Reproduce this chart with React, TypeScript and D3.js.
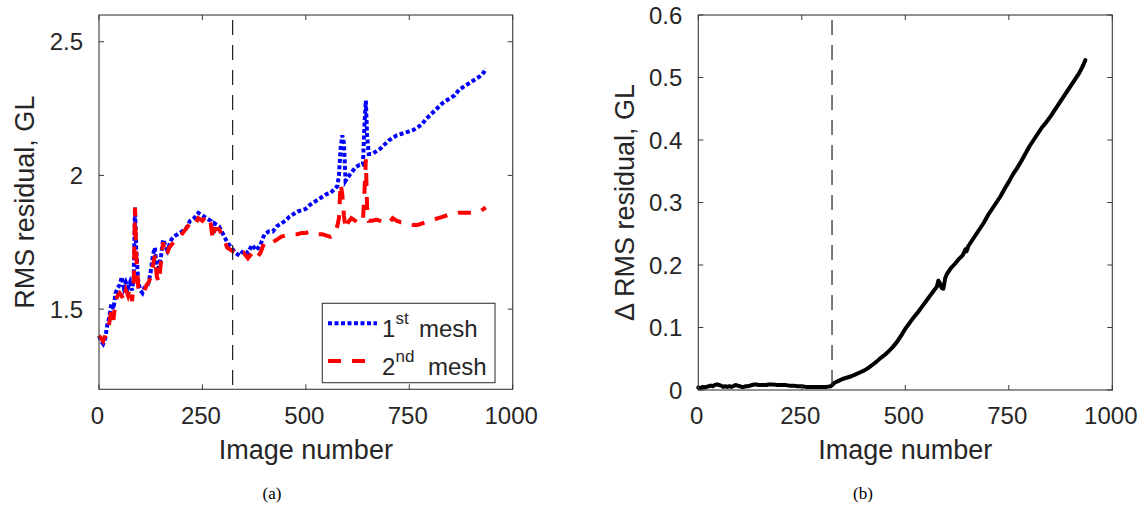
import React from "react";
import * as d3 from "d3";

// ---- data ----
const imageNumbers = [
  0, 5, 10, 15, 20, 25, 30, 35, 40, 45, 50, 55, 60, 65, 70, 75, 80, 84, 87, 90,
  95, 100, 105, 110, 115, 120, 125, 130, 135, 140, 145, 150, 155, 160, 165, 170, 175, 180, 190, 200,
  210, 220, 230, 240, 250, 260, 270, 275, 280, 290, 300, 310, 320, 330, 340, 350, 360, 370, 380, 390,
  400, 410, 420, 430, 440, 450, 460, 470, 480, 490, 500, 510, 520, 530, 540, 550, 560, 570, 576, 580,
  584, 588, 592, 596, 600, 610, 620, 630, 638, 642, 645, 648, 652, 660, 670, 680, 690, 700, 710, 720,
  730, 740, 750, 760, 770, 780, 790, 800, 810, 820, 830, 840, 850, 860, 870, 880, 890, 900, 910, 920,
  930, 935,
];

const mesh1Rms = [
  1.40, 1.38, 1.37, 1.39, 1.44, 1.47, 1.52, 1.50, 1.56, 1.58, 1.59, 1.62, 1.58, 1.60, 1.58, 1.60, 1.57, 1.62, 1.88, 1.72,
  1.60, 1.57, 1.56, 1.58, 1.58, 1.60, 1.64, 1.70, 1.73, 1.64, 1.66, 1.70, 1.76, 1.74, 1.72, 1.74, 1.76, 1.77, 1.78, 1.79,
  1.80, 1.83, 1.84, 1.86, 1.85, 1.84, 1.83, 1.78, 1.82, 1.81, 1.78, 1.75, 1.73, 1.71, 1.70, 1.72, 1.71, 1.74, 1.72, 1.74,
  1.78, 1.79, 1.79, 1.81, 1.82, 1.83, 1.845, 1.855, 1.865, 1.87, 1.875, 1.89, 1.90, 1.91, 1.92, 1.93, 1.935, 1.95, 1.96, 2.00,
  2.10, 2.15, 2.12, 1.98, 1.99, 2.01, 2.03, 2.04, 2.04, 2.20, 2.28, 2.15, 2.08, 2.08, 2.09, 2.10, 2.115, 2.13, 2.14, 2.15,
  2.155, 2.16, 2.165, 2.17, 2.18, 2.19, 2.21, 2.225, 2.24, 2.255, 2.27, 2.28, 2.29, 2.30, 2.32, 2.33, 2.34, 2.35, 2.36, 2.37,
  2.385, 2.40,
];

const mesh2Rms = [
  1.40, 1.39, 1.38, 1.40, 1.42, 1.45, 1.50, 1.46, 1.53, 1.55, 1.56, 1.55, 1.53, 1.57, 1.55, 1.58, 1.53, 1.60, 1.88, 1.70,
  1.58, 1.56, 1.56, 1.57, 1.59, 1.60, 1.62, 1.66, 1.70, 1.62, 1.60, 1.68, 1.75, 1.70, 1.71, 1.73, 1.74, 1.75, 1.76, 1.78,
  1.80, 1.82, 1.81, 1.84, 1.83, 1.85, 1.82, 1.76, 1.80, 1.80, 1.77, 1.73, 1.72, 1.71, 1.70, 1.71, 1.69, 1.71, 1.69, 1.71,
  1.75, 1.75, 1.75, 1.76, 1.77, 1.775, 1.78, 1.78, 1.78, 1.785, 1.785, 1.79, 1.785, 1.78, 1.78, 1.775, 1.77, 1.78, 1.81, 1.84,
  1.97, 1.93, 1.85, 1.80, 1.82, 1.84, 1.83, 1.82, 1.83, 1.95, 2.06, 1.88, 1.83, 1.83, 1.835, 1.83, 1.825, 1.82, 1.84, 1.83,
  1.825, 1.825, 1.82, 1.815, 1.815, 1.82, 1.825, 1.83, 1.835, 1.84, 1.845, 1.85, 1.855, 1.855, 1.86, 1.86, 1.86, 1.86, 1.865, 1.865,
  1.875, 1.88,
];

const deltaRms = [
  0.004, 0.003, 0.005, 0.004, 0.005, 0.006, 0.007, 0.006, 0.008, 0.009, 0.008, 0.007, 0.005, 0.006, 0.005, 0.006, 0.005, 0.006, 0.007, 0.008,
  0.007, 0.006, 0.005, 0.005, 0.006, 0.006, 0.007, 0.008, 0.009, 0.009, 0.008, 0.008, 0.008, 0.008, 0.008, 0.009, 0.009, 0.009, 0.008, 0.008,
  0.008, 0.007, 0.007, 0.006, 0.006, 0.005, 0.005, 0.005, 0.005, 0.005, 0.005, 0.005, 0.006, 0.012, 0.015, 0.018, 0.020, 0.022, 0.025, 0.028,
  0.031, 0.035, 0.040, 0.045, 0.051, 0.056, 0.062, 0.069, 0.077, 0.087, 0.098, 0.107, 0.116, 0.124, 0.133, 0.142, 0.151, 0.160, 0.165, 0.175,
  0.170, 0.163, 0.162, 0.178, 0.185, 0.195, 0.202, 0.210, 0.215, 0.220, 0.225, 0.222, 0.230, 0.238, 0.248, 0.258, 0.268, 0.280, 0.290, 0.300,
  0.310, 0.322, 0.333, 0.345, 0.355, 0.366, 0.378, 0.390, 0.400, 0.410, 0.420, 0.428, 0.437, 0.447, 0.457, 0.467, 0.477, 0.487, 0.497, 0.507,
  0.520, 0.528,
];

const markerImage = 323;
const xTicks = [0, 250, 500, 750, 1000];
const yTicksLeft = [1.5, 2, 2.5];
const yTicksRight = [0, 0.1, 0.2, 0.3, 0.4, 0.5, 0.6];
const legendLabels = [
  { base: "1", sup: "st", rest: "mesh" },
  { base: "2", sup: "nd", rest: "mesh" },
];

const FONT = "'Liberation Sans', Arial, Helvetica, sans-serif";
const INK = "#262626";
const AXIS = "#3a3a3a";

function Panel({
  left, right, top, bottom, yDomain, yTicks, yFmt, ylabel, ylabelX, children, caption, captionX,
}: any) {
  const x = d3.scaleLinear().domain([0, 1000]).range([left, right]);
  const y = d3.scaleLinear().domain(yDomain).range([bottom, top]);
  const tl = 5;
  return (
    <g>
      {children(x, y)}
      <line x1={x(markerImage)} x2={x(markerImage)} y1={top} y2={bottom}
        stroke="#222" strokeWidth={1.2} strokeDasharray="15 10" strokeDashoffset={20} />
      <rect x={left} y={top} width={right - left} height={bottom - top} fill="none" stroke={AXIS} strokeWidth={1.1} />
      {xTicks.map((t) => (
        <g key={"x" + t}>
          <line x1={x(t)} x2={x(t)} y1={bottom} y2={bottom - tl} stroke={AXIS} strokeWidth={1} />
          <line x1={x(t)} x2={x(t)} y1={top} y2={top + tl} stroke={AXIS} strokeWidth={1} />
          <text x={x(t) - 1.5} y={423.5} textAnchor="middle" fontSize={24} fill={INK} fontFamily={FONT}>{t}</text>
        </g>
      ))}
      {yTicks.map((t: number) => (
        <g key={"y" + t}>
          <line x1={left} x2={left + tl} y1={y(t)} y2={y(t)} stroke={AXIS} strokeWidth={1} />
          <line x1={right} x2={right - tl} y1={y(t)} y2={y(t)} stroke={AXIS} strokeWidth={1} />
          <text x={left - 16} y={y(t) + 8.6} textAnchor="end" fontSize={24} fill={INK} fontFamily={FONT}>{yFmt(t)}</text>
        </g>
      ))}
      <text x={(left + right) / 2} y={459} textAnchor="middle" fontSize={27} fill={INK} fontFamily={FONT}>Image number</text>
      <text transform={`translate(${ylabelX},${(top + bottom) / 2}) rotate(-90)`} textAnchor="middle" dy="0.35em"
        fontSize={27} fill={INK} fontFamily={FONT}>{ylabel}</text>
      <text x={captionX} y={499} textAnchor="middle" fontSize={17} fill="#000" fontFamily="'Liberation Serif', 'Times New Roman', serif">{caption}</text>
    </g>
  );
}

export default function App() {
  const idx = imageNumbers.map((_, i) => i);
  return (
    <svg width={1142} height={510} style={{ position: "absolute", left: 0, top: 0, background: "#fff" }}>
      <rect width={1142} height={510} fill="#fff" />
      <Panel left={99} right={512.7} top={15} bottom={389.3} yDomain={[1.2, 2.6]} yTicks={yTicksLeft}
        yFmt={(t: number) => String(t)} ylabel="RMS residual, GL" ylabelX={25} caption="(a)" captionX={272}>
        {(x: any, y: any) => {
          const l1 = d3.line<number>().x((i) => x(imageNumbers[i])).y((i) => y(mesh1Rms[i]));
          const l2 = d3.line<number>().x((i) => x(imageNumbers[i])).y((i) => y(mesh2Rms[i]));
          return (
            <g>
              <path d={l1(idx) || ""} fill="none" stroke="#0000ff" strokeWidth={4} strokeDasharray="4 2.5" />
              <path d={l2(idx) || ""} fill="none" stroke="#ff0000" strokeWidth={4} strokeDasharray="13 11" />
              <rect x={322.3} y={303.3} width={172.7} height={79.4} fill="#fff" stroke={AXIS} strokeWidth={1.1} />
              <line x1={328} x2={377} y1={323.3} y2={323.3} stroke="#0000ff" strokeWidth={4} strokeDasharray="4 2.5" />
              <line x1={328} x2={367} y1={361} y2={361} stroke="#ff0000" strokeWidth={4} strokeDasharray="13 11" />
              {legendLabels.map((lg, i) => (
                <g key={lg.sup} fontFamily={FONT} fill={INK}>
                  <text x={382} y={336.7 + i * 38} fontSize={24}>{lg.base}</text>
                  <text x={395.5} y={324 + i * 38} fontSize={17}>{lg.sup}</text>
                  <text x={419 + i * 9} y={336.7 + i * 38} fontSize={24}>{lg.rest}</text>
                </g>
              ))}
            </g>
          );
        }}
      </Panel>
      <Panel left={698.3} right={1112.3} top={15} bottom={390} yDomain={[0, 0.6]} yTicks={yTicksRight}
        yFmt={(t: number) => (t === 0 ? "0" : t.toFixed(1))} ylabel="Δ RMS residual, GL" ylabelX={625} caption="(b)" captionX={863}>
        {(x: any, y: any) => {
          const l = d3.line<number>().x((i) => x(imageNumbers[i])).y((i) => y(deltaRms[i]));
          return <path d={l(idx) || ""} fill="none" stroke="#000" strokeWidth={4} strokeLinejoin="round" strokeLinecap="round" />;
        }}
      </Panel>
    </svg>
  );
}
